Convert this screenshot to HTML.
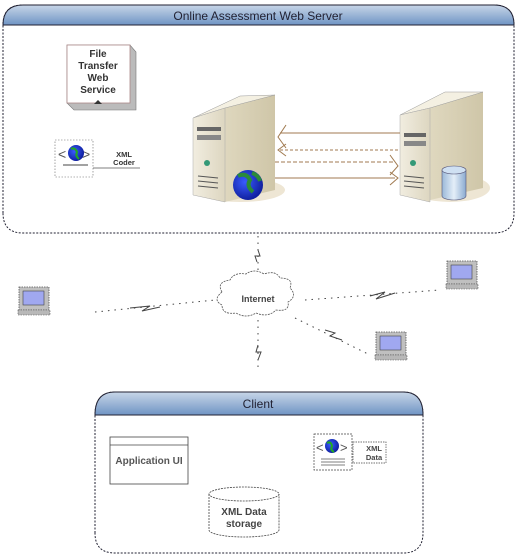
<!DOCTYPE html>
<html><head><meta charset="utf-8"><style>
html,body{margin:0;padding:0;background:#fff;}
svg{display:block;font-family:"Liberation Sans",sans-serif;}
</style></head><body>
<svg width="532" height="556" viewBox="0 0 532 556" xmlns="http://www.w3.org/2000/svg">
<defs>
<linearGradient id="hdr" x1="0" y1="0" x2="0" y2="1"><stop offset="0" stop-color="#c8d6e8"/><stop offset="1" stop-color="#6f94c4"/></linearGradient>
<linearGradient id="front" x1="0" y1="0" x2="1" y2="0"><stop offset="0" stop-color="#f1ede0"/><stop offset="1" stop-color="#ddd6c0"/></linearGradient>
<linearGradient id="side" x1="0" y1="0" x2="1" y2="0"><stop offset="0" stop-color="#e8e2cc"/><stop offset="1" stop-color="#cfc6a8"/></linearGradient>
<linearGradient id="cyl" x1="0" y1="0" x2="1" y2="0"><stop offset="0" stop-color="#9ab8d8"/><stop offset=".5" stop-color="#e4eef8"/><stop offset="1" stop-color="#8aaad0"/></linearGradient>
<radialGradient id="globe" cx=".4" cy=".4" r=".6"><stop offset="0" stop-color="#3a5cff"/><stop offset="1" stop-color="#1020a0"/></radialGradient>
<g id="pc">
<rect x="0" y="0" width="30" height="23" fill="#c0c0c0" stroke="#555" stroke-width="0.8" stroke-dasharray="1.5 1"/>
<rect x="4" y="4" width="21" height="14" fill="#a0a8f0" stroke="#444" stroke-width="0.6"/>
<rect x="-1" y="23" width="32" height="5" fill="#b8b8b8" stroke="#555" stroke-width="0.6" stroke-dasharray="1.5 1"/>
</g>
</defs>

<path d="M3,213 L3,25 Q3,5 23,5 L494,5 Q514,5 514,25 L514,213 Q514,233 494,233 L23,233 Q3,233 3,213Z" fill="#fff" stroke="#223" stroke-width="1" stroke-dasharray="2 1.5"/>
<path d="M3,25 Q3,5 23,5 L494,5 Q514,5 514,25 Z" fill="url(#hdr)" stroke="#223" stroke-width="1"/>
<text x="258" y="20" font-size="12" text-anchor="middle" fill="#223">Online Assessment Web Server</text>

<polygon points="67,45 130,45 136,52 136,110 74,110 67,103" fill="#bbb" stroke="#777" stroke-width="0.6"/>
<rect x="67" y="45" width="63" height="58" fill="#fff" stroke="#a88" stroke-width="0.8"/>
<text font-size="10" font-weight="bold" text-anchor="middle" fill="#333"><tspan x="98" y="57">File</tspan><tspan x="98" y="69">Transfer</tspan><tspan x="98" y="81">Web</tspan><tspan x="98" y="93">Service</tspan></text>
<polygon points="94,104 98,100 102,104" fill="#333"/>

<rect x="55" y="140" width="38" height="37" fill="#fff" stroke="#666" stroke-width="0.6" stroke-dasharray="1.5 1.5"/>
<text x="58" y="159" font-size="14" fill="#555">&lt;</text><text x="82" y="159" font-size="14" fill="#555">&gt;</text>
<circle cx="76" cy="153" r="8" fill="url(#globe)"/><path d="M71,149 q4,-2 6,3 q-2,4 2,7" stroke="#2a2" stroke-width="2" fill="none"/>
<line x1="63" y1="165" x2="88" y2="165" stroke="#444"/>
<line x1="93" y1="168" x2="140" y2="168" stroke="#555" stroke-width="0.7"/>
<text font-size="7.5" font-weight="bold" text-anchor="middle" fill="#333"><tspan x="124" y="157">XML</tspan><tspan x="124" y="165">Coder</tspan></text>

<ellipse cx="240" cy="190" rx="45" ry="12" fill="#eee6d4"/>
<polygon points="193,118 225,108 275,95 275,190 225,202 193,195" fill="url(#side)"/>
<polygon points="193,118 240,96 275,95 225,108" fill="#f4f0e2" stroke="#999" stroke-width="0.5"/>
<polygon points="193,118 225,108 225,202 193,195" fill="url(#front)" stroke="#aaa" stroke-width="0.5"/>
<rect x="197" y="127" width="24" height="4" fill="#666"/><rect x="197" y="135" width="24" height="5" fill="#888"/>
<circle cx="207" cy="163" r="3" fill="#397"/>
<g stroke="#555" stroke-width="1"><line x1="198" y1="176" x2="218" y2="178"/><line x1="198" y1="181" x2="218" y2="183"/><line x1="198" y1="186" x2="218" y2="188"/></g>
<circle cx="248" cy="185" r="15" fill="url(#globe)"/>
<path d="M238,176 q8,-4 12,4 q-4,6 3,12 M252,173 q6,2 8,8" stroke="#2a8a3a" stroke-width="4" fill="none"/>

<ellipse cx="450" cy="188" rx="40" ry="14" fill="#eee6d4"/>
<polygon points="400,115 430,108 483,92 483,188 430,200 400,195" fill="url(#side)"/>
<polygon points="400,115 445,92 483,92 430,108" fill="#f4f0e2" stroke="#999" stroke-width="0.5"/>
<polygon points="400,115 430,108 430,202 400,195" fill="url(#front)" stroke="#aaa" stroke-width="0.5"/>
<rect x="404" y="133" width="22" height="4" fill="#666"/><rect x="404" y="141" width="22" height="5" fill="#888"/>
<circle cx="413" cy="163" r="3" fill="#397"/>
<g stroke="#555" stroke-width="1"><line x1="404" y1="176" x2="424" y2="178"/><line x1="404" y1="181" x2="424" y2="183"/><line x1="404" y1="186" x2="424" y2="188"/></g>
<path d="M442,170 L442,196 A12,4 0 0 0 466,196 L466,170 Z" fill="url(#cyl)" stroke="#557" stroke-width="0.6"/>
<ellipse cx="454" cy="170" rx="12" ry="4" fill="#cfe0f2" stroke="#557" stroke-width="0.6"/>

<g stroke="#a07a50" stroke-width="1" fill="none">
<line x1="280" y1="133" x2="400" y2="133"/><polyline points="286,125 278,137 286,148"/>
<line x1="280" y1="150" x2="400" y2="150" stroke-dasharray="3 2"/><polyline points="286,144 278,150 286,156"/>
<line x1="275" y1="162" x2="395" y2="162" stroke-dasharray="4 2"/><polyline points="390,155 398,166 390,175"/>
<line x1="275" y1="178" x2="395" y2="178"/><polyline points="390,172 398,178 390,185"/>
</g>

<g stroke="#444" stroke-width="1" fill="none" stroke-dasharray="1.5 5">
<line x1="258" y1="236" x2="258" y2="276"/>
<line x1="95" y1="312" x2="215" y2="300"/>
<line x1="305" y1="300" x2="440" y2="290"/>
<line x1="295" y1="318" x2="370" y2="355"/>
<line x1="258" y1="320" x2="258" y2="372"/>
</g>
<g stroke="#444" stroke-width="1" fill="none">
<polyline points="130,308 150,306 142,311 160,307"/>
<polyline points="370,296 385,292 376,299 395,293"/>
<polyline points="325,330 335,333 330,336 342,340"/>
<polyline points="258,250 260,256 255,256 257,262"/>
<polyline points="258,345 256,352 261,352 258,360"/>
</g>

<path d="M222,292 q-6,-10 8,-12 q4,-8 16,-6 q8,-6 18,0 q12,-4 16,4 q14,0 10,10 q8,8 -2,14 q2,10 -12,8 q-8,8 -20,3 q-10,6 -20,0 q-14,2 -14,-8 q-10,-5 0,-13Z" fill="#fff" stroke="#555" stroke-width="0.8" stroke-dasharray="2 1"/>
<text x="258" y="302" font-size="9" font-weight="bold" text-anchor="middle" fill="#444">Internet</text>

<use href="#pc" x="19" y="287"/>
<use href="#pc" x="447" y="261"/>
<use href="#pc" x="376" y="332"/>

<path d="M95,533 L95,415 Q95,392 115,392 L403,392 Q423,392 423,415 L423,533 Q423,553 403,553 L115,553 Q95,553 95,533Z" fill="#fff" stroke="#223" stroke-width="1" stroke-dasharray="2 1.5"/>
<path d="M95,415 Q95,392 115,392 L403,392 Q423,392 423,415 Z" fill="url(#hdr)" stroke="#223" stroke-width="1"/>
<text x="258" y="408" font-size="12" text-anchor="middle" fill="#223">Client</text>

<rect x="110" y="437" width="78" height="47" fill="#fff" stroke="#444" stroke-width="0.8"/>
<line x1="110" y1="445" x2="188" y2="445" stroke="#444" stroke-width="0.8"/>
<text x="149" y="464" font-size="10" font-weight="bold" text-anchor="middle" fill="#555">Application UI</text>

<path d="M209,494 L209,530 A35,7 0 0 0 279,530 L279,494" fill="#fff" stroke="#444" stroke-width="0.8" stroke-dasharray="2 1"/>
<ellipse cx="244" cy="494" rx="35" ry="7" fill="#fff" stroke="#444" stroke-width="0.8" stroke-dasharray="2 1"/>
<text font-size="10" font-weight="bold" text-anchor="middle" fill="#444"><tspan x="244" y="515">XML Data</tspan><tspan x="244" y="527">storage</tspan></text>

<rect x="314" y="434" width="38" height="36" fill="#fff" stroke="#444" stroke-width="0.7" stroke-dasharray="2 1"/>
<text x="316" y="452" font-size="13" fill="#555">&lt;</text><text x="340" y="452" font-size="13" fill="#555">&gt;</text>
<circle cx="332" cy="446" r="7" fill="url(#globe)"/><path d="M327,443 q4,-2 5,3 q-2,4 2,6" stroke="#2a2" stroke-width="2" fill="none"/>
<g stroke="#555" stroke-width="0.8"><line x1="321" y1="459" x2="345" y2="459"/><line x1="321" y1="462" x2="345" y2="462"/><line x1="321" y1="465" x2="345" y2="465"/></g>
<rect x="353" y="442" width="33" height="21" fill="#fff" stroke="#444" stroke-width="0.7" stroke-dasharray="1.5 1"/>
<text font-size="7.5" font-weight="bold" text-anchor="middle" fill="#444"><tspan x="374" y="451">XML</tspan><tspan x="374" y="460">Data</tspan></text>
</svg>
</body></html>
